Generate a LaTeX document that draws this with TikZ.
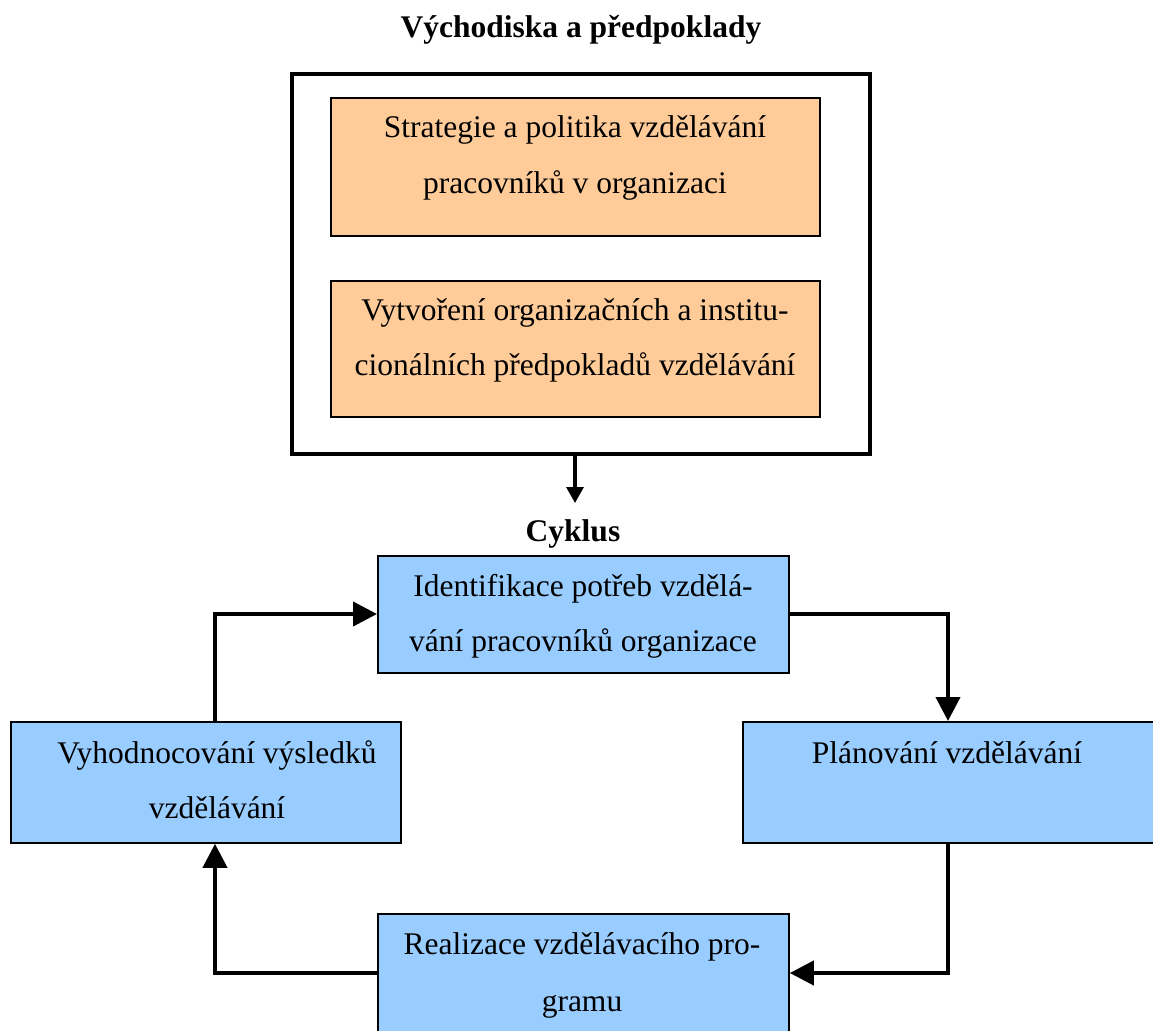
\documentclass[tikz,border=0pt]{standalone}
\usepackage{fontspec}
\setmainfont{Liberation Serif}
\usetikzlibrary{arrows.meta}
\definecolor{orangefill}{HTML}{FFCC99}
\definecolor{bluefill}{HTML}{99CCFF}
\begin{document}
\begin{tikzpicture}[x=1pt,y=-1pt,
  outerbox/.style={draw=black, line width=4pt, inner sep=0pt, anchor=north west},
  box/.style={draw=black, line width=1.8pt, inner sep=0pt, anchor=north west},
  obox/.style={box, fill=orangefill},
  bbox/.style={box, fill=bluefill},
  txt/.style={font=\fontsize{31.5}{38}\selectfont, anchor=base, inner sep=0pt},
  btxt/.style={font=\fontsize{31.5}{38}\selectfont\bfseries, anchor=base, inner sep=0pt},
  conn/.style={line width=4pt, -{Triangle[length=24pt,width=24pt]}},
  small/.style={line width=3.2pt, -{Triangle[length=16pt,width=17pt]}}]
\useasboundingbox (0,0) rectangle (1153,1030);

% title
\node[btxt] (title) at (581,38) {Východiska a předpoklady};

% outer frame
\node[outerbox, minimum width=578pt, minimum height=380pt] (frame) at (290,72) {};

% orange boxes
\node[obox, minimum width=489pt, minimum height=138pt] (o1) at (330,97) {};
\node[txt] (o1a) at (575,138) {Strategie a politika vzdělávání};
\node[txt] (o1b) at (575,193) {pracovníků v organizaci};

\node[obox, minimum width=489pt, minimum height=136pt] (o2) at (330,280) {};
\node[txt] (o2a) at (575,320) {Vytvoření organizačních a institu-};
\node[txt] (o2b) at (575,375) {cionálních předpokladů vzdělávání};

% cyklus label
\coordinate (ctip) at (575,503);
\draw[small] (frame.south -| ctip) -- (ctip);
\node[btxt] (cyk) at (573,541) {Cyklus};

% blue boxes
\node[bbox, minimum width=411pt, minimum height=117pt] (ident) at (377,555) {};
\node[txt] (ida) at (583,596) {Identifikace potřeb vzdělá-};
\node[txt] (idb) at (583,651) {vání pracovníků organizace};

\node[bbox, minimum width=390pt, minimum height=121pt] (left) at (10,721) {};
\node[txt] (la) at (217,763) {Vyhodnocování výsledků};
\node[txt] (lb) at (217,818) {vzdělávání};

\node[bbox, minimum width=420pt, minimum height=121pt] (right) at (742,721) {};
\node[txt] (ra) at (947,763) {Plánování vzdělávání};

\node[bbox, minimum width=411pt, minimum height=130pt] (bottom) at (377,913) {};
\node[txt] (ba) at (582,954) {Realizace vzdělávacího pro-};
\node[txt] (bb) at (582,1011) {gramu};

% connectors
\coordinate (lx) at (215,614);
\coordinate (rx) at (948,614);
\coordinate (bx) at (948,973);
\coordinate (blx) at (215,973);
\draw[conn] (left.north -| lx) |- (ident.west |- lx);
\draw[conn] (ident.east |- rx) -| (right.north -| rx);
\draw[conn] (right.south -| bx) |- (bottom.east |- bx);
\draw[conn] (bottom.west |- blx) -| (left.south -| blx);
\end{tikzpicture}
\end{document}
